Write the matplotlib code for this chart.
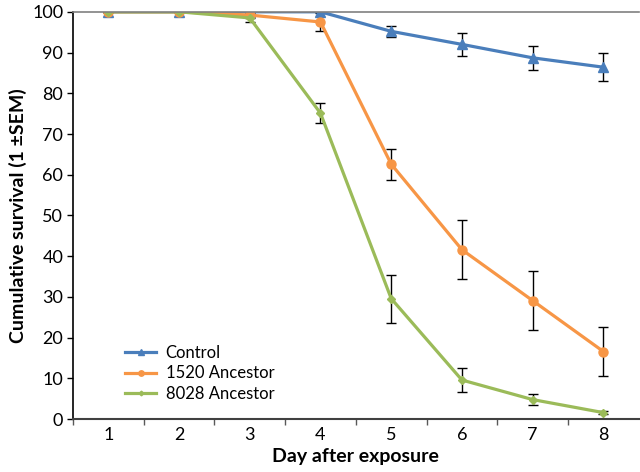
import matplotlib
matplotlib.use("Agg")
import matplotlib.pyplot as plt

days = [1, 2, 3, 4, 5, 6, 7, 8]
control = [100, 100, 100, 100, 95.2, 92.0, 88.7, 86.4]
control_err = [0, 0, 0, 0, 1.4, 2.9, 3.0, 3.5]
a1520 = [100, 100, 99.2, 97.5, 62.6, 41.6, 29.1, 16.6]
a1520_err = [0, 0, 0.6, 2.3, 3.8, 7.3, 7.3, 6.1]
a8028 = [100, 100, 98.5, 75.1, 29.6, 9.6, 4.8, 1.6]
a8028_err = [0, 0, 1.0, 2.5, 5.9, 2.9, 1.3, 0.3]
labels = ["Control", "1520 Ancestor", "8028 Ancestor"]

plt.rcParams['font.family'] = ['Lato', 'DejaVu Sans']

fig = plt.figure(figsize=(6.4, 4.72), dpi=100)
ax = fig.add_axes([0.114, 0.112, 0.884, 0.863])

series = [
    (control, control_err, '#4A7EBB', '^', 7, labels[0]),
    (a1520, a1520_err, '#F79646', 'o', 6.5, labels[1]),
    (a8028, a8028_err, '#9BBB59', 'D', 4, labels[2]),
]
for vals, errs, col, mk, ms, lab in series:
    ax.errorbar(days, vals, yerr=errs, color=col, marker=mk, markersize=ms,
                linewidth=2.3, ecolor='black', elinewidth=1, capsize=3.5,
                capthick=1, label=lab)

ax.set_xlim(0.5, 8.5)
ax.set_ylim(0, 100)
ax.set_yticks(range(0, 101, 10))
ax.set_xticks(days)
ax.set_xticks([d + 0.5 for d in range(0, 8)], minor=True)
ax.tick_params(axis='x', which='major', length=0, labelsize=13, pad=6)
ax.tick_params(axis='x', which='minor', length=4, width=1, direction='out', color='#595959')
ax.tick_params(axis='y', which='major', length=4, width=1, direction='out', labelsize=13, pad=3)

ax.spines['right'].set_visible(False)
ax.spines['top'].set_color('#808080')
ax.spines['top'].set_linewidth(1.2)
ax.spines['left'].set_color('black')
ax.spines['left'].set_linewidth(1.2)
ax.spines['bottom'].set_color('#404040')
ax.spines['bottom'].set_linewidth(1.5)

ax.set_xlabel("Day after exposure", fontsize=14, fontweight='bold', labelpad=3)
ax.set_ylabel("Cumulative survival (1 ±SEM)", fontsize=14, fontweight='bold', labelpad=4)

handles, labs = ax.get_legend_handles_labels()
handles = [h[0] for h in handles]
leg = ax.legend(handles, labs, loc='lower left', bbox_to_anchor=(0.065, 0.005),
                frameon=False, fontsize=12, handlelength=1.9, handletextpad=0.55,
                labelspacing=0.28, markerscale=0.6)

fig.savefig("out.png", dpi=100)
